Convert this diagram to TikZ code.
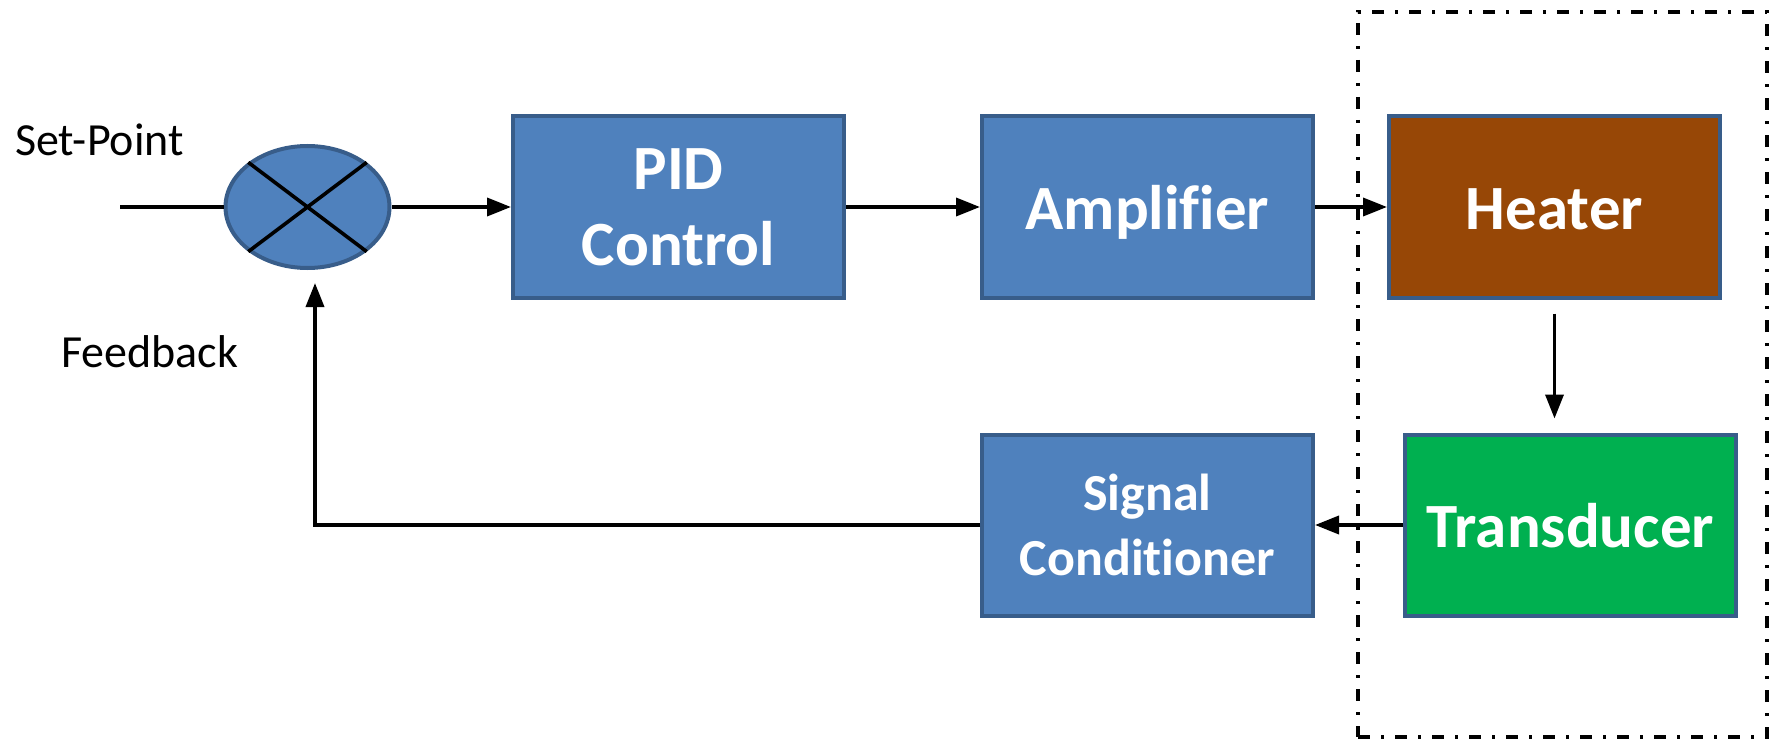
\documentclass[tikz,border=0pt]{standalone}
\usepackage{fontspec}
\setmainfont{Carlito}[Ligatures=NoCommon]
\usetikzlibrary{arrows.meta,shapes.geometric}
\definecolor{bfill}{HTML}{4F81BD}
\definecolor{bline}{HTML}{385D8A}
\definecolor{heat}{HTML}{974706}
\definecolor{trans}{HTML}{00B050}
\begin{document}
\begin{tikzpicture}[x=1pt,y=-1pt,
  blk/.style={draw=bline, line width=4pt, fill=bfill, minimum width=331pt, minimum height=181pt,
    inner sep=0pt, text=white, font=\bfseries\fontsize{63}{76}\selectfont, align=center},
  oneline/.style={text height=45pt, text depth=0pt},
  arr/.style={line width=3.6pt, -{Triangle[length=24pt,width=18pt]}},
  ln/.style={line width=3.6pt},
  lbl/.style={font=\fontsize{46}{55}\selectfont, inner sep=0pt}]
\useasboundingbox (0,0) rectangle (1787,751);
% plant boundary
\node[draw, line width=3.4pt, dash pattern=on 12pt off 11pt on 3pt off 11pt,
  minimum width=409pt, minimum height=725pt, inner sep=0pt] (plant) at (1562.5,374.5) {};
% summing junction
\node[ellipse, draw=bline, line width=4pt, fill=bfill, minimum width=164pt,
  minimum height=122pt, inner sep=0pt] (sum) at (307.5,207) {};
\draw[ln] (sum.37) -- (sum.217);
\draw[ln] (sum.143) -- (sum.-37);
% blocks
\node[blk] (pid) at (678.5,207) {PID\\Control};
\node[blk, oneline] (amp) at (1147.5,207) {Amplifier};
\node[blk, oneline, fill=heat] (heater) at (1554.5,207) {Heater};
\node[blk, oneline, fill=trans] (trans) at (1570.5,525) {Transducer};
\node[blk, font=\bfseries\fontsize{52}{65}\selectfont] (sc) at (1147.5,525) {Signal\\Conditioner};
% labels
\node[lbl, anchor=base west] (setp) at (15,156) {Set-Point};
\node[lbl, anchor=base west] (fb) at (61,367) {Feedback};
% connectors
\coordinate (spin) at (120,207);
\draw[ln] (spin) -- (sum.west);
\draw[arr] (sum.east) -- (pid.west);
\draw[arr] (pid) -- (amp);
\draw[arr] (amp) -- (heater);
\draw[arr] ([yshift=-14pt]heater.south) -- ++(0,105);
\draw[arr] (trans) -- (sc);
\coordinate (fbtip) at (315,283);
\draw[arr] (sc.west) -| (fbtip);
\end{tikzpicture}
\end{document}
